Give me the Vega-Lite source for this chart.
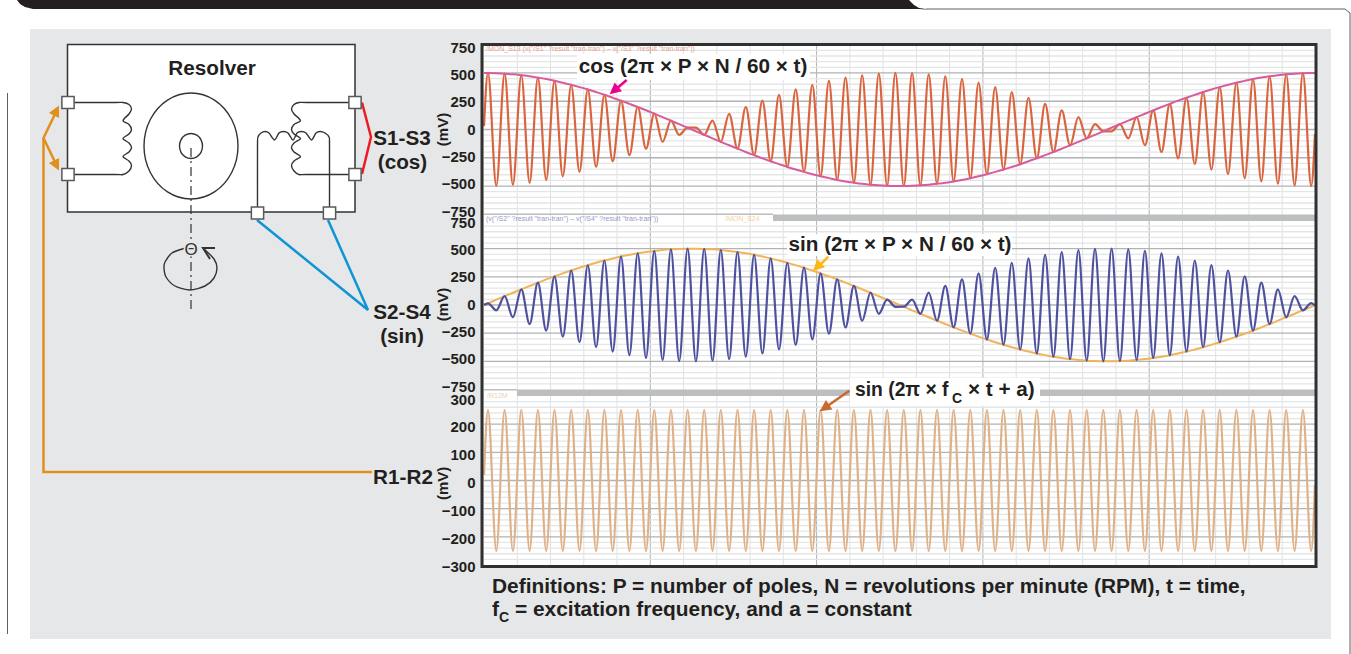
{"$schema":"https://vega.github.io/schema/vega-lite/v6.json","width":1351,"height":654,"padding":0,"autosize":{"type":"none"},"background":"#ffffff","config":{"view":{"stroke":null},"font":"Liberation Sans"},
"datasets":{
"traces":[{"t":0,"cos":30,"sin":0,"exc":20,"cosEnv":500,"sinEnv":0},{"t":4,"cos":500,"sin":15,"exc":250,"cosEnv":500,"sinEnv":15},{"t":12.3,"cos":-498,"sin":-47,"exc":-250,"cosEnv":498,"sinEnv":47},{"t":20.6,"cos":494,"sin":78,"exc":250,"cosEnv":494,"sinEnv":78},{"t":28.9,"cos":-488,"sin":-109,"exc":-250,"cosEnv":488,"sinEnv":109},{"t":37.3,"cos":480,"sin":139,"exc":250,"cosEnv":480,"sinEnv":139},{"t":45.6,"cos":-471,"sin":-169,"exc":-250,"cosEnv":471,"sinEnv":169},{"t":53.9,"cos":459,"sin":198,"exc":250,"cosEnv":459,"sinEnv":198},{"t":62.2,"cos":-446,"sin":-227,"exc":-250,"cosEnv":446,"sinEnv":227},{"t":70.5,"cos":431,"sin":254,"exc":250,"cosEnv":431,"sinEnv":254},{"t":78.8,"cos":-414,"sin":-281,"exc":-250,"cosEnv":414,"sinEnv":281},{"t":87.2,"cos":395,"sin":306,"exc":250,"cosEnv":395,"sinEnv":306},{"t":95.5,"cos":-375,"sin":-330,"exc":-250,"cosEnv":375,"sinEnv":330},{"t":103.8,"cos":354,"sin":353,"exc":250,"cosEnv":354,"sinEnv":353},{"t":112.1,"cos":-331,"sin":-375,"exc":-250,"cosEnv":331,"sinEnv":375},{"t":120.4,"cos":307,"sin":395,"exc":250,"cosEnv":307,"sinEnv":395},{"t":128.7,"cos":-281,"sin":-413,"exc":-250,"cosEnv":281,"sinEnv":413},{"t":137,"cos":255,"sin":430,"exc":250,"cosEnv":255,"sinEnv":430},{"t":145.4,"cos":-227,"sin":-445,"exc":-250,"cosEnv":227,"sinEnv":445},{"t":153.7,"cos":199,"sin":459,"exc":250,"cosEnv":199,"sinEnv":459},{"t":162,"cos":-170,"sin":-470,"exc":-250,"cosEnv":170,"sinEnv":470},{"t":170.3,"cos":140,"sin":480,"exc":250,"cosEnv":140,"sinEnv":480},{"t":178.6,"cos":-109,"sin":-488,"exc":-250,"cosEnv":109,"sinEnv":488},{"t":186.9,"cos":78,"sin":494,"exc":250,"cosEnv":78,"sinEnv":494},{"t":195.2,"cos":-47,"sin":-498,"exc":-250,"cosEnv":47,"sinEnv":498},{"t":203.6,"cos":16,"sin":500,"exc":250,"cosEnv":16,"sinEnv":500},{"t":211.9,"cos":16,"sin":-500,"exc":-250,"cosEnv":-16,"sinEnv":500},{"t":220.2,"cos":-47,"sin":498,"exc":250,"cosEnv":-47,"sinEnv":498},{"t":228.5,"cos":78,"sin":-494,"exc":-250,"cosEnv":-78,"sinEnv":494},{"t":236.8,"cos":-109,"sin":488,"exc":250,"cosEnv":-109,"sinEnv":488},{"t":245.1,"cos":139,"sin":-480,"exc":-250,"cosEnv":-139,"sinEnv":480},{"t":253.5,"cos":-169,"sin":470,"exc":250,"cosEnv":-169,"sinEnv":470},{"t":261.8,"cos":199,"sin":-459,"exc":-250,"cosEnv":-199,"sinEnv":459},{"t":270.1,"cos":-227,"sin":446,"exc":250,"cosEnv":-227,"sinEnv":446},{"t":278.4,"cos":255,"sin":-430,"exc":-250,"cosEnv":-255,"sinEnv":430},{"t":286.7,"cos":-281,"sin":414,"exc":250,"cosEnv":-281,"sinEnv":414},{"t":295,"cos":306,"sin":-395,"exc":-250,"cosEnv":-306,"sinEnv":395},{"t":303.3,"cos":-331,"sin":375,"exc":250,"cosEnv":-331,"sinEnv":375},{"t":311.7,"cos":354,"sin":-354,"exc":-250,"cosEnv":-354,"sinEnv":354},{"t":320,"cos":-375,"sin":331,"exc":250,"cosEnv":-375,"sinEnv":331},{"t":328.3,"cos":395,"sin":-306,"exc":-250,"cosEnv":-395,"sinEnv":306},{"t":336.6,"cos":-414,"sin":281,"exc":250,"cosEnv":-414,"sinEnv":281},{"t":344.9,"cos":430,"sin":-255,"exc":-250,"cosEnv":-430,"sinEnv":255},{"t":353.2,"cos":-446,"sin":227,"exc":250,"cosEnv":-446,"sinEnv":227},{"t":361.5,"cos":459,"sin":-199,"exc":-250,"cosEnv":-459,"sinEnv":199},{"t":369.9,"cos":-470,"sin":169,"exc":250,"cosEnv":-470,"sinEnv":169},{"t":378.2,"cos":480,"sin":-139,"exc":-250,"cosEnv":-480,"sinEnv":139},{"t":386.5,"cos":-488,"sin":109,"exc":250,"cosEnv":-488,"sinEnv":109},{"t":394.8,"cos":494,"sin":-78,"exc":-250,"cosEnv":-494,"sinEnv":78},{"t":403.1,"cos":-498,"sin":47,"exc":250,"cosEnv":-498,"sinEnv":47},{"t":411.4,"cos":500,"sin":-16,"exc":-250,"cosEnv":-500,"sinEnv":16},{"t":419.8,"cos":-500,"sin":-15,"exc":250,"cosEnv":-500,"sinEnv":-15},{"t":428.1,"cos":498,"sin":47,"exc":-250,"cosEnv":-498,"sinEnv":-47},{"t":436.4,"cos":-494,"sin":-78,"exc":250,"cosEnv":-494,"sinEnv":-78},{"t":444.7,"cos":488,"sin":109,"exc":-250,"cosEnv":-488,"sinEnv":-109},{"t":453,"cos":-480,"sin":-139,"exc":250,"cosEnv":-480,"sinEnv":-139},{"t":461.3,"cos":471,"sin":169,"exc":-250,"cosEnv":-471,"sinEnv":-169},{"t":469.6,"cos":-459,"sin":-198,"exc":250,"cosEnv":-459,"sinEnv":-198},{"t":478,"cos":446,"sin":227,"exc":-250,"cosEnv":-446,"sinEnv":-227},{"t":486.3,"cos":-431,"sin":-254,"exc":250,"cosEnv":-431,"sinEnv":-254},{"t":494.6,"cos":414,"sin":281,"exc":-250,"cosEnv":-414,"sinEnv":-281},{"t":502.9,"cos":-395,"sin":-306,"exc":250,"cosEnv":-395,"sinEnv":-306},{"t":511.2,"cos":375,"sin":330,"exc":-250,"cosEnv":-375,"sinEnv":-330},{"t":519.5,"cos":-354,"sin":-353,"exc":250,"cosEnv":-354,"sinEnv":-353},{"t":527.8,"cos":331,"sin":375,"exc":-250,"cosEnv":-331,"sinEnv":-375},{"t":536.2,"cos":-307,"sin":-395,"exc":250,"cosEnv":-307,"sinEnv":-395},{"t":544.5,"cos":281,"sin":413,"exc":-250,"cosEnv":-281,"sinEnv":-413},{"t":552.8,"cos":-255,"sin":-430,"exc":250,"cosEnv":-255,"sinEnv":-430},{"t":561.1,"cos":227,"sin":445,"exc":-250,"cosEnv":-227,"sinEnv":-445},{"t":569.4,"cos":-199,"sin":-459,"exc":250,"cosEnv":-199,"sinEnv":-459},{"t":577.7,"cos":170,"sin":470,"exc":-250,"cosEnv":-170,"sinEnv":-470},{"t":586.1,"cos":-140,"sin":-480,"exc":250,"cosEnv":-140,"sinEnv":-480},{"t":594.4,"cos":109,"sin":488,"exc":-250,"cosEnv":-109,"sinEnv":-488},{"t":602.7,"cos":-78,"sin":-494,"exc":250,"cosEnv":-78,"sinEnv":-494},{"t":611,"cos":47,"sin":498,"exc":-250,"cosEnv":-47,"sinEnv":-498},{"t":619.3,"cos":-16,"sin":-500,"exc":250,"cosEnv":-16,"sinEnv":-500},{"t":627.6,"cos":-16,"sin":500,"exc":-250,"cosEnv":16,"sinEnv":-500},{"t":635.9,"cos":47,"sin":-498,"exc":250,"cosEnv":47,"sinEnv":-498},{"t":644.3,"cos":-78,"sin":494,"exc":-250,"cosEnv":78,"sinEnv":-494},{"t":652.6,"cos":109,"sin":-488,"exc":250,"cosEnv":109,"sinEnv":-488},{"t":660.9,"cos":-139,"sin":480,"exc":-250,"cosEnv":139,"sinEnv":-480},{"t":669.2,"cos":169,"sin":-470,"exc":250,"cosEnv":169,"sinEnv":-470},{"t":677.5,"cos":-199,"sin":459,"exc":-250,"cosEnv":199,"sinEnv":-459},{"t":685.8,"cos":227,"sin":-446,"exc":250,"cosEnv":227,"sinEnv":-446},{"t":694.1,"cos":-255,"sin":430,"exc":-250,"cosEnv":255,"sinEnv":-430},{"t":702.5,"cos":281,"sin":-414,"exc":250,"cosEnv":281,"sinEnv":-414},{"t":710.8,"cos":-306,"sin":395,"exc":-250,"cosEnv":306,"sinEnv":-395},{"t":719.1,"cos":331,"sin":-375,"exc":250,"cosEnv":331,"sinEnv":-375},{"t":727.4,"cos":-354,"sin":354,"exc":-250,"cosEnv":354,"sinEnv":-354},{"t":735.7,"cos":375,"sin":-331,"exc":250,"cosEnv":375,"sinEnv":-331},{"t":744,"cos":-395,"sin":306,"exc":-250,"cosEnv":395,"sinEnv":-306},{"t":752.4,"cos":414,"sin":-281,"exc":250,"cosEnv":414,"sinEnv":-281},{"t":760.7,"cos":-430,"sin":255,"exc":-250,"cosEnv":430,"sinEnv":-255},{"t":769,"cos":446,"sin":-227,"exc":250,"cosEnv":446,"sinEnv":-227},{"t":777.3,"cos":-459,"sin":199,"exc":-250,"cosEnv":459,"sinEnv":-199},{"t":785.6,"cos":470,"sin":-169,"exc":250,"cosEnv":470,"sinEnv":-169},{"t":793.9,"cos":-480,"sin":139,"exc":-250,"cosEnv":480,"sinEnv":-139},{"t":802.2,"cos":488,"sin":-109,"exc":250,"cosEnv":488,"sinEnv":-109},{"t":810.6,"cos":-494,"sin":78,"exc":-250,"cosEnv":494,"sinEnv":-78},{"t":818.9,"cos":498,"sin":-47,"exc":250,"cosEnv":498,"sinEnv":-47},{"t":827.2,"cos":-500,"sin":16,"exc":-250,"cosEnv":500,"sinEnv":-16},{"t":831,"cos":-40,"sin":-5,"exc":-15,"cosEnv":500,"sinEnv":0}],
"gridMv":[{"mV":-700,"kind":"minor","from":0,"to":831},{"mV":-650,"kind":"minor","from":0,"to":831},{"mV":-600,"kind":"minor","from":0,"to":831},{"mV":-550,"kind":"minor","from":0,"to":831},{"mV":-450,"kind":"minor","from":0,"to":831},{"mV":-400,"kind":"minor","from":0,"to":831},{"mV":-350,"kind":"minor","from":0,"to":831},{"mV":-300,"kind":"minor","from":0,"to":831},{"mV":-200,"kind":"minor","from":0,"to":831},{"mV":-150,"kind":"minor","from":0,"to":831},{"mV":-100,"kind":"minor","from":0,"to":831},{"mV":-50,"kind":"minor","from":0,"to":831},{"mV":50,"kind":"minor","from":0,"to":831},{"mV":100,"kind":"minor","from":0,"to":831},{"mV":150,"kind":"minor","from":0,"to":831},{"mV":200,"kind":"minor","from":0,"to":831},{"mV":300,"kind":"minor","from":0,"to":831},{"mV":350,"kind":"minor","from":0,"to":831},{"mV":400,"kind":"minor","from":0,"to":831},{"mV":450,"kind":"minor","from":0,"to":831},{"mV":550,"kind":"minor","from":0,"to":831},{"mV":600,"kind":"minor","from":0,"to":831},{"mV":650,"kind":"minor","from":0,"to":831},{"mV":700,"kind":"minor","from":0,"to":831},{"mV":-500,"kind":"major","from":0,"to":831},{"mV":-250,"kind":"major","from":0,"to":831},{"mV":0,"kind":"major","from":0,"to":831},{"mV":250,"kind":"major","from":0,"to":831},{"mV":500,"kind":"major","from":0,"to":831}],
"gridExc":[{"mV":-280,"kind":"minor","from":0,"to":831},{"mV":-260,"kind":"minor","from":0,"to":831},{"mV":-240,"kind":"minor","from":0,"to":831},{"mV":-220,"kind":"minor","from":0,"to":831},{"mV":-180,"kind":"minor","from":0,"to":831},{"mV":-160,"kind":"minor","from":0,"to":831},{"mV":-140,"kind":"minor","from":0,"to":831},{"mV":-120,"kind":"minor","from":0,"to":831},{"mV":-80,"kind":"minor","from":0,"to":831},{"mV":-60,"kind":"minor","from":0,"to":831},{"mV":-40,"kind":"minor","from":0,"to":831},{"mV":-20,"kind":"minor","from":0,"to":831},{"mV":20,"kind":"minor","from":0,"to":831},{"mV":40,"kind":"minor","from":0,"to":831},{"mV":60,"kind":"minor","from":0,"to":831},{"mV":80,"kind":"minor","from":0,"to":831},{"mV":120,"kind":"minor","from":0,"to":831},{"mV":140,"kind":"minor","from":0,"to":831},{"mV":160,"kind":"minor","from":0,"to":831},{"mV":180,"kind":"minor","from":0,"to":831},{"mV":220,"kind":"minor","from":0,"to":831},{"mV":240,"kind":"minor","from":0,"to":831},{"mV":260,"kind":"minor","from":0,"to":831},{"mV":280,"kind":"minor","from":0,"to":831},{"mV":-200,"kind":"major","from":0,"to":831},{"mV":-100,"kind":"major","from":0,"to":831},{"mV":0,"kind":"major","from":0,"to":831},{"mV":100,"kind":"major","from":0,"to":831},{"mV":200,"kind":"major","from":0,"to":831}]
},
"resolve":{"scale":{"x":"independent","y":"independent","color":"independent"}},
"layer":[
{"encoding":{"x":{"field":"x","type":"quantitative","axis":null,"scale":{"domain":[0,1351],"range":[0,1351],"nice":false,"zero":false}},"y":{"field":"y","type":"quantitative","axis":null,"scale":{"domain":[0,654],"range":[0,654],"nice":false,"zero":false}}},
"resolve":{"scale":{"color":"independent"}},
"layer":[
{"data":{"values":[{"x":17,"y":0,"y2":0},{"x":20,"y":0,"y2":4},{"x":25,"y":0,"y2":7},{"x":33,"y":0,"y2":9},{"x":909,"y":0,"y2":9},{"x":914,"y":5,"y2":9},{"x":919,"y":8,"y2":9},{"x":926,"y":9,"y2":9.5}]},"mark":{"type":"area","color":"#231f20","interpolate":"linear"},"encoding":{"y2":{"field":"y2"}}},
{"data":{"values":[{"part":"panel","x":30,"x2":1331,"y":29,"y2":639},{"part":"plot","x":484,"x2":1315,"y":46,"y2":565}]},"mark":{"type":"rect"},"encoding":{"x2":{"field":"x2"},"y2":{"field":"y2"},"color":{"field":"part","type":"nominal","legend":null,"scale":{"domain":["panel","plot"],"range":["#e6e7e8","#ffffff"]}}}},
{"data":{"values":[{"edge":"top right","i":0,"x":926,"y":9},{"edge":"top right","i":1,"x":1345,"y":9},{"edge":"top right","i":2,"x":1350,"y":13},{"edge":"top right","i":3,"x":1350,"y":654},{"edge":"left","i":0,"x":7.5,"y":93},{"edge":"left","i":1,"x":7.5,"y":634}]},"mark":{"type":"line","color":"#5f6062","strokeWidth":1},"encoding":{"detail":{"field":"edge"},"order":{"field":"i"}}},
{"data":{"values":[{"kind":"minor","x":517.3,"y":46,"y2":565},{"kind":"minor","x":550.5,"y":46,"y2":565},{"kind":"minor","x":583.8,"y":46,"y2":565},{"kind":"minor","x":617,"y":46,"y2":565},{"kind":"minor","x":683.6,"y":46,"y2":565},{"kind":"minor","x":716.8,"y":46,"y2":565},{"kind":"minor","x":750.1,"y":46,"y2":565},{"kind":"minor","x":783.3,"y":46,"y2":565},{"kind":"minor","x":849.9,"y":46,"y2":565},{"kind":"minor","x":883.1,"y":46,"y2":565},{"kind":"minor","x":916.4,"y":46,"y2":565},{"kind":"minor","x":949.6,"y":46,"y2":565},{"kind":"minor","x":1016.2,"y":46,"y2":565},{"kind":"minor","x":1049.4,"y":46,"y2":565},{"kind":"minor","x":1082.7,"y":46,"y2":565},{"kind":"minor","x":1115.9,"y":46,"y2":565},{"kind":"minor","x":1182.5,"y":46,"y2":565},{"kind":"minor","x":1215.7,"y":46,"y2":565},{"kind":"minor","x":1249,"y":46,"y2":565},{"kind":"minor","x":1282.2,"y":46,"y2":565},{"kind":"major","x":650.3,"y":46,"y2":565},{"kind":"major","x":816.6,"y":46,"y2":565},{"kind":"major","x":982.9,"y":46,"y2":565},{"kind":"major","x":1149.2,"y":46,"y2":565}]},"mark":{"type":"rule","strokeWidth":1},"encoding":{"y2":{"field":"y2"},"color":{"field":"kind","type":"nominal","legend":null,"scale":{"domain":["minor","major"],"range":["#e0e1e3","#b0b2b5"]}}}}
]},
{"data":{"name":"gridMv"},"mark":{"type":"rule","strokeWidth":1.3},"encoding":{"x":{"field":"from","type":"quantitative","axis":null,"scale":{"domain":[0,831],"range":[484,1315],"nice":false,"zero":false}},"x2":{"field":"to"},"y":{"field":"mV","type":"quantitative","axis":null,"scale":{"domain":[-750,750],"range":[214.3,44.7],"nice":false,"zero":false}},"color":{"field":"kind","type":"nominal","legend":null,"scale":{"domain":["minor","major"],"range":["#e4e5e6","#b0b2b5"]}}}},
{"data":{"name":"gridMv"},"mark":{"type":"rule","strokeWidth":1.3},"encoding":{"x":{"field":"from","type":"quantitative","axis":null,"scale":{"domain":[0,831],"range":[484,1315],"nice":false,"zero":false}},"x2":{"field":"to"},"y":{"field":"mV","type":"quantitative","axis":null,"scale":{"domain":[-750,750],"range":[389.5,220.5],"nice":false,"zero":false}},"color":{"field":"kind","type":"nominal","legend":null,"scale":{"domain":["minor","major"],"range":["#e4e5e6","#b0b2b5"]}}}},
{"data":{"name":"gridExc"},"mark":{"type":"rule","strokeWidth":1.3},"encoding":{"x":{"field":"from","type":"quantitative","axis":null,"scale":{"domain":[0,831],"range":[484,1315],"nice":false,"zero":false}},"x2":{"field":"to"},"y":{"field":"mV","type":"quantitative","axis":null,"scale":{"domain":[-300,300],"range":[565,396],"nice":false,"zero":false}},"color":{"field":"kind","type":"nominal","legend":null,"scale":{"domain":["minor","major"],"range":["#e4e5e6","#b0b2b5"]}}}},
{"data":{"name":"traces"},"encoding":{"x":{"field":"t","type":"quantitative","axis":null,"scale":{"domain":[0,831],"range":[484,1315],"nice":false,"zero":false}}},
"layer":[
{"mark":{"type":"line","interpolate":"monotone","color":"#d9653f","strokeWidth":2.2},"encoding":{"y":{"field":"cos","type":"quantitative","axis":null,"scale":{"domain":[-750,750],"range":[214.3,44.7],"nice":false,"zero":false}}}},
{"mark":{"type":"line","interpolate":"monotone","color":"#d85c9c","strokeWidth":2},"encoding":{"y":{"field":"cosEnv","type":"quantitative","axis":null,"scale":{"domain":[-750,750],"range":[214.3,44.7],"nice":false,"zero":false}}}}
]},
{"data":{"name":"traces"},"encoding":{"x":{"field":"t","type":"quantitative","axis":null,"scale":{"domain":[0,831],"range":[484,1315],"nice":false,"zero":false}}},
"layer":[
{"mark":{"type":"line","interpolate":"monotone","color":"#f0b45a","strokeWidth":2},"encoding":{"y":{"field":"sinEnv","type":"quantitative","axis":null,"scale":{"domain":[-750,750],"range":[389.5,220.5],"nice":false,"zero":false}}}},
{"mark":{"type":"line","interpolate":"monotone","color":"#4f519f","strokeWidth":2.2},"encoding":{"y":{"field":"sin","type":"quantitative","axis":null,"scale":{"domain":[-750,750],"range":[389.5,220.5],"nice":false,"zero":false}}}}
]},
{"data":{"name":"traces"},"mark":{"type":"line","interpolate":"monotone","color":"#dfb189","strokeWidth":2.2},"encoding":{"x":{"field":"t","type":"quantitative","axis":null,"scale":{"domain":[0,831],"range":[484,1315],"nice":false,"zero":false}},"y":{"field":"exc","type":"quantitative","axis":null,"scale":{"domain":[-300,300],"range":[565,396],"nice":false,"zero":false}}}},
{"encoding":{"x":{"field":"x","type":"quantitative","axis":null,"scale":{"domain":[0,1351],"range":[0,1351],"nice":false,"zero":false}},"y":{"field":"y","type":"quantitative","axis":null,"scale":{"domain":[0,654],"range":[0,654],"nice":false,"zero":false}}},
"resolve":{"scale":{"color":"independent"}},
"layer":[
{"data":{"values":[{"part":"bar","x":484,"x2":773,"y":213.5,"y2":215},{"part":"bar","x":773,"x2":1315,"y":214.5,"y2":221},{"part":"bar","x":484,"x2":517,"y":389,"y2":390.5},{"part":"bar","x":517,"x2":1315,"y":389.5,"y2":396},{"part":"label","x":577,"x2":810,"y":54,"y2":80},{"part":"label","x":787,"x2":1012,"y":234,"y2":256},{"part":"label","x":850,"x2":1040,"y":378,"y2":406}]},"mark":{"type":"rect"},"encoding":{"x2":{"field":"x2"},"y2":{"field":"y2"},"color":{"field":"part","type":"nominal","legend":null,"scale":{"domain":["bar","label"],"range":["#bcbec0","#ffffff"]}}}},
{"data":{"values":[{"x":482,"x2":1316,"y":44.5,"y2":566.5}]},"mark":{"type":"rect","filled":false,"stroke":"#303030","strokeWidth":3},"encoding":{"x2":{"field":"x2"},"y2":{"field":"y2"}}},
{"data":{"values":[{"x":67.5,"x2":355,"y":44.5,"y2":212}]},"mark":{"type":"rect","fill":"#ffffff","stroke":"#333333","strokeWidth":1.5},"encoding":{"x2":{"field":"x2"},"y2":{"field":"y2"}}},
{"data":{"values":[{"c":"L","i":0,"x":68,"y":102.5},{"c":"L","i":1,"x":115,"y":102.5},{"c":"L","i":2,"x":123,"y":102.5},{"c":"L","i":3,"x":129,"y":104.5},{"c":"L","i":4,"x":131.5,"y":109},{"c":"L","i":5,"x":129,"y":114},{"c":"L","i":6,"x":123,"y":120.5},{"c":"L","i":7,"x":129,"y":124.5},{"c":"L","i":8,"x":131.5,"y":129.5},{"c":"L","i":9,"x":129,"y":134},{"c":"L","i":10,"x":123,"y":138.5},{"c":"L","i":11,"x":129,"y":143},{"c":"L","i":12,"x":131.5,"y":147.5},{"c":"L","i":13,"x":129,"y":152},{"c":"L","i":14,"x":123,"y":156.5},{"c":"L","i":15,"x":129,"y":161},{"c":"L","i":16,"x":131.5,"y":165.5},{"c":"L","i":17,"x":129,"y":171},{"c":"L","i":18,"x":123,"y":174.5},{"c":"L","i":19,"x":115,"y":174.5},{"c":"L","i":20,"x":68,"y":174.5},
{"c":"R","i":0,"x":355,"y":102.5},{"c":"R","i":1,"x":307,"y":102.5},{"c":"R","i":2,"x":299,"y":102.5},{"c":"R","i":3,"x":294,"y":104.5},{"c":"R","i":4,"x":291.5,"y":109},{"c":"R","i":5,"x":294,"y":114},{"c":"R","i":6,"x":300.5,"y":120.5},{"c":"R","i":7,"x":294,"y":124.5},{"c":"R","i":8,"x":291.5,"y":129.5},{"c":"R","i":9,"x":294,"y":134},{"c":"R","i":10,"x":300.5,"y":138.5},{"c":"R","i":11,"x":294,"y":143},{"c":"R","i":12,"x":291.5,"y":147.5},{"c":"R","i":13,"x":294,"y":152},{"c":"R","i":14,"x":300.5,"y":156.5},{"c":"R","i":15,"x":294,"y":161},{"c":"R","i":16,"x":291.5,"y":165.5},{"c":"R","i":17,"x":294,"y":171},{"c":"R","i":18,"x":299,"y":174.5},{"c":"R","i":19,"x":307,"y":174.5},{"c":"R","i":20,"x":355,"y":174.5},
{"c":"S","i":0,"x":257.5,"y":213},{"c":"S","i":1,"x":257.5,"y":145},{"c":"S","i":2,"x":258,"y":137},{"c":"S","i":3,"x":261,"y":133},{"c":"S","i":4,"x":265,"y":131.5},{"c":"S","i":5,"x":269,"y":133},{"c":"S","i":6,"x":274.5,"y":140},{"c":"S","i":7,"x":279,"y":133},{"c":"S","i":8,"x":283.5,"y":131.5},{"c":"S","i":9,"x":288,"y":133},{"c":"S","i":10,"x":293,"y":140},{"c":"S","i":11,"x":297,"y":133},{"c":"S","i":12,"x":301.5,"y":131.5},{"c":"S","i":13,"x":306,"y":133},{"c":"S","i":14,"x":311.5,"y":140},{"c":"S","i":15,"x":316,"y":133},{"c":"S","i":16,"x":320,"y":131.5},{"c":"S","i":17,"x":325,"y":133},{"c":"S","i":18,"x":329,"y":137},{"c":"S","i":19,"x":329.5,"y":145},{"c":"S","i":20,"x":329.5,"y":213},
{"c":"rot","i":0,"x":184,"y":248.5},{"c":"rot","i":1,"x":172,"y":253},{"c":"rot","i":2,"x":165,"y":262},{"c":"rot","i":3,"x":164,"y":268},{"c":"rot","i":4,"x":166,"y":277},{"c":"rot","i":5,"x":175,"y":286},{"c":"rot","i":6,"x":190,"y":290},{"c":"rot","i":7,"x":205,"y":286},{"c":"rot","i":8,"x":214,"y":278},{"c":"rot","i":9,"x":217,"y":268},{"c":"rot","i":10,"x":214,"y":259},{"c":"rot","i":11,"x":203,"y":248}]},"mark":{"type":"line","interpolate":"cardinal","tension":0.2,"color":"#333333","strokeWidth":1.4},"encoding":{"detail":{"field":"c"},"order":{"field":"i"}}},
{"data":{"values":[{"c":"outer","i":0,"x":238,"y":146},{"c":"outer","i":1,"x":231.7,"y":172.5},{"c":"outer","i":2,"x":214.5,"y":191.9},{"c":"outer","i":3,"x":191,"y":199},{"c":"outer","i":4,"x":167.5,"y":191.9},{"c":"outer","i":5,"x":150.3,"y":172.5},{"c":"outer","i":6,"x":144,"y":146},{"c":"outer","i":7,"x":150.3,"y":119.5},{"c":"outer","i":8,"x":167.5,"y":100.1},{"c":"outer","i":9,"x":191,"y":93},{"c":"outer","i":10,"x":214.5,"y":100.1},{"c":"outer","i":11,"x":231.7,"y":119.5},{"c":"inner","i":0,"x":202.5,"y":146},{"c":"inner","i":1,"x":201,"y":152.3},{"c":"inner","i":2,"x":196.8,"y":156.8},{"c":"inner","i":3,"x":191,"y":158.5},{"c":"inner","i":4,"x":185.2,"y":156.8},{"c":"inner","i":5,"x":181,"y":152.3},{"c":"inner","i":6,"x":179.5,"y":146},{"c":"inner","i":7,"x":181,"y":139.8},{"c":"inner","i":8,"x":185.2,"y":135.2},{"c":"inner","i":9,"x":191,"y":133.5},{"c":"inner","i":10,"x":196.8,"y":135.2},{"c":"inner","i":11,"x":201,"y":139.8}]},"mark":{"type":"line","interpolate":"cardinal-closed","color":"#333333","strokeWidth":1.4},"encoding":{"detail":{"field":"c"},"order":{"field":"i"}}},
{"data":{"values":[{"c":"arrow","i":0,"x":215,"y":248},{"c":"arrow","i":1,"x":203,"y":248},{"c":"arrow","i":2,"x":210,"y":259}]},"mark":{"type":"line","color":"#333333","strokeWidth":2},"encoding":{"order":{"field":"i"}}},
{"data":{"values":[{"i":0,"x":191,"y":148},{"i":1,"x":191,"y":313}]},"mark":{"type":"line","color":"#333333","strokeWidth":1.2,"strokeDash":[9,4,2,4]},"encoding":{"order":{"field":"i"}}},
{"data":{"values":[{"w":"S1-S3","i":0,"x":362,"y":102.5},{"w":"S1-S3","i":1,"x":371,"y":137},{"w":"S1-S3","i":2,"x":362,"y":174},{"w":"S2-S4","i":0,"x":257,"y":220},{"w":"S2-S4","i":1,"x":368,"y":310},{"w":"S2-S4","i":2,"x":328,"y":220},{"w":"R1","i":0,"x":372,"y":472},{"w":"R1","i":1,"x":43.5,"y":472},{"w":"R1","i":2,"x":43.5,"y":138},{"w":"R1","i":3,"x":55,"y":114},{"w":"R2","i":0,"x":43.5,"y":138},{"w":"R2","i":1,"x":55,"y":162},{"w":"cos pointer","i":0,"x":626.7,"y":80},{"w":"cos pointer","i":1,"x":615,"y":90},{"w":"sin pointer","i":0,"x":828.3,"y":256.7},{"w":"sin pointer","i":1,"x":818,"y":267},{"w":"exc pointer","i":0,"x":849.3,"y":390.7},{"w":"exc pointer","i":1,"x":826,"y":407}]},"mark":{"type":"line","strokeWidth":2.5},"encoding":{"detail":{"field":"w"},"order":{"field":"i"},"color":{"field":"w","type":"nominal","legend":null,"scale":{"domain":["S1-S3","S2-S4","R1","R2","cos pointer","sin pointer","exc pointer"],"range":["#ed1c24","#0f95d3","#e18f1f","#e18f1f","#ec008c","#fdb913","#c8692e"]}}}},
{"data":{"values":[{"w":"R1","heading":26,"x":56.5,"y":110.5},{"w":"R2","heading":154,"x":56.5,"y":165.5},{"w":"cos pointer","heading":230,"x":614,"y":90.5},{"w":"sin pointer","heading":226,"x":817,"y":267},{"w":"exc pointer","heading":235,"x":824.5,"y":408}]},"mark":{"type":"point","shape":"M0,-1L1,1L-1,1Z","filled":true,"opacity":1,"size":130},"encoding":{"angle":{"field":"heading","type":"quantitative","scale":null},"color":{"field":"w","type":"nominal","legend":null,"scale":{"domain":["S1-S3","S2-S4","R1","R2","cos pointer","sin pointer","exc pointer"],"range":["#ed1c24","#0f95d3","#e18f1f","#e18f1f","#ec008c","#fdb913","#c8692e"]}}}},
{"data":{"values":[{"x":68,"y":102.5},{"x":68,"y":174.5},{"x":355,"y":102.5},{"x":355,"y":174.5},{"x":257.5,"y":213},{"x":329.5,"y":213}]},"mark":{"type":"point","shape":"square","filled":true,"fill":"#ffffff","stroke":"#58595b","strokeWidth":1.5,"opacity":1,"size":150}},
{"data":{"values":[{"x":191,"y":249}]},"mark":{"type":"point","shape":"circle","filled":true,"fill":"#e6e7e8","opacity":1,"size":220}},
{"data":{"values":[{"label":"Θ","x":191,"y":249.5}]},"mark":{"type":"text","fontSize":17,"color":"#333333","align":"center","baseline":"middle"},"encoding":{"text":{"field":"label"}}},
{"data":{"values":[{"label":"/MON_S13 (v(\"/S1\" ?result \"tran-tran\") – v(\"/S3\" ?result \"tran-tran\"))","c":"a","x":486,"y":48.5},{"label":"(v(\"/S2\" ?result \"tran-tran\") – v(\"/S4\" ?result \"tran-tran\"))","c":"b","x":486,"y":219},{"label":"/MON_S24","c":"c","x":725,"y":219},{"label":"/R12M","c":"d","x":487,"y":396}]},"mark":{"type":"text","fontSize":7,"align":"left","baseline":"middle","opacity":0.6},"encoding":{"text":{"field":"label"},"color":{"field":"c","type":"nominal","legend":null,"scale":{"domain":["a","b","c","d"],"range":["#d9653f","#4f519f","#f0b45a","#dfb189"]}}}},
{"data":{"values":[{"label":"Resolver","x":212,"y":69},{"label":"S1-S3","x":402,"y":139},{"label":"(cos)","x":402.5,"y":163},{"label":"S2-S4","x":402,"y":313},{"label":"(sin)","x":402,"y":337},{"label":"R1-R2","x":403,"y":478},{"label":"cos (2π × P × N / 60 × t)","x":693,"y":67},{"label":"sin (2π × P × N / 60 × t)","x":900,"y":245}]},"mark":{"type":"text","fontSize":20.7,"fontWeight":"bold","color":"#231f20","align":"center","baseline":"middle"},"encoding":{"text":{"field":"label"}}},
{"data":{"values":[{"label":"sin (2π × f","x":855,"y":390}]},"mark":{"type":"text","fontSize":19.3,"fontWeight":"bold","color":"#231f20","align":"left","baseline":"middle"},"encoding":{"text":{"field":"label"}}},
{"data":{"values":[{"label":"× t + a)","x":968,"y":390}]},"mark":{"type":"text","fontSize":20.7,"fontWeight":"bold","color":"#231f20","align":"left","baseline":"middle"},"encoding":{"text":{"field":"label"}}},
{"data":{"values":[{"label":"Definitions: P = number of poles, N = revolutions per minute (RPM), t = time,","x":492,"y":587},{"label":"f","x":492,"y":610},{"label":"= excitation frequency, and a = constant","x":515,"y":610}]},"mark":{"type":"text","fontSize":20.9,"fontWeight":"bold","color":"#231f20","align":"left","baseline":"middle"},"encoding":{"text":{"field":"label"}}},
{"data":{"values":[{"label":"C","x":952,"y":399},{"label":"C","x":499,"y":618}]},"mark":{"type":"text","fontSize":14,"fontWeight":"bold","color":"#231f20","align":"left","baseline":"middle"},"encoding":{"text":{"field":"label"}}}
]},
{"data":{"name":"gridMv"},"mark":{"type":"rule","opacity":0},"encoding":{"x":{"field":"from","type":"quantitative","axis":null,"scale":{"domain":[0,831],"range":[484,1315],"nice":false,"zero":false}},"x2":{"field":"to"},"y":{"field":"mV","type":"quantitative","scale":{"domain":[-750,750],"range":[211,47],"nice":false,"zero":false},"axis":{"orient":"left","offset":-482,"values":[-750,-500,-250,0,250,500,750],"format":"d","domain":false,"ticks":false,"grid":false,"labelPadding":7,"labelFontSize":15,"labelFontWeight":"bold","labelColor":"#231f20","labelOverlap":false,"labelFlush":false,"labelBound":false,"title":"(mV)","titleFontSize":15,"titleFontWeight":"bold","titleColor":"#231f20","titleX":-32,"zindex":2}}}},
{"data":{"name":"gridMv"},"mark":{"type":"rule","opacity":0},"encoding":{"x":{"field":"from","type":"quantitative","axis":null,"scale":{"domain":[0,831],"range":[484,1315],"nice":false,"zero":false}},"x2":{"field":"to"},"y":{"field":"mV","type":"quantitative","scale":{"domain":[-750,750],"range":[386,222],"nice":false,"zero":false},"axis":{"orient":"left","offset":-482,"values":[-750,-500,-250,0,250,500,750],"format":"d","domain":false,"ticks":false,"grid":false,"labelPadding":7,"labelFontSize":15,"labelFontWeight":"bold","labelColor":"#231f20","labelOverlap":false,"labelFlush":false,"labelBound":false,"title":"(mV)","titleFontSize":15,"titleFontWeight":"bold","titleColor":"#231f20","titleX":-32,"zindex":2}}}},
{"data":{"name":"gridExc"},"mark":{"type":"rule","opacity":0},"encoding":{"x":{"field":"from","type":"quantitative","axis":null,"scale":{"domain":[0,831],"range":[484,1315],"nice":false,"zero":false}},"x2":{"field":"to"},"y":{"field":"mV","type":"quantitative","scale":{"domain":[-300,300],"range":[566.7,399],"nice":false,"zero":false},"axis":{"orient":"left","offset":-482,"values":[-300,-200,-100,0,100,200,300],"format":"d","domain":false,"ticks":false,"grid":false,"labelPadding":7,"labelFontSize":15,"labelFontWeight":"bold","labelColor":"#231f20","labelOverlap":false,"labelFlush":false,"labelBound":false,"title":"(mV)","titleFontSize":15,"titleFontWeight":"bold","titleColor":"#231f20","titleX":-32,"zindex":2}}}}
]}
